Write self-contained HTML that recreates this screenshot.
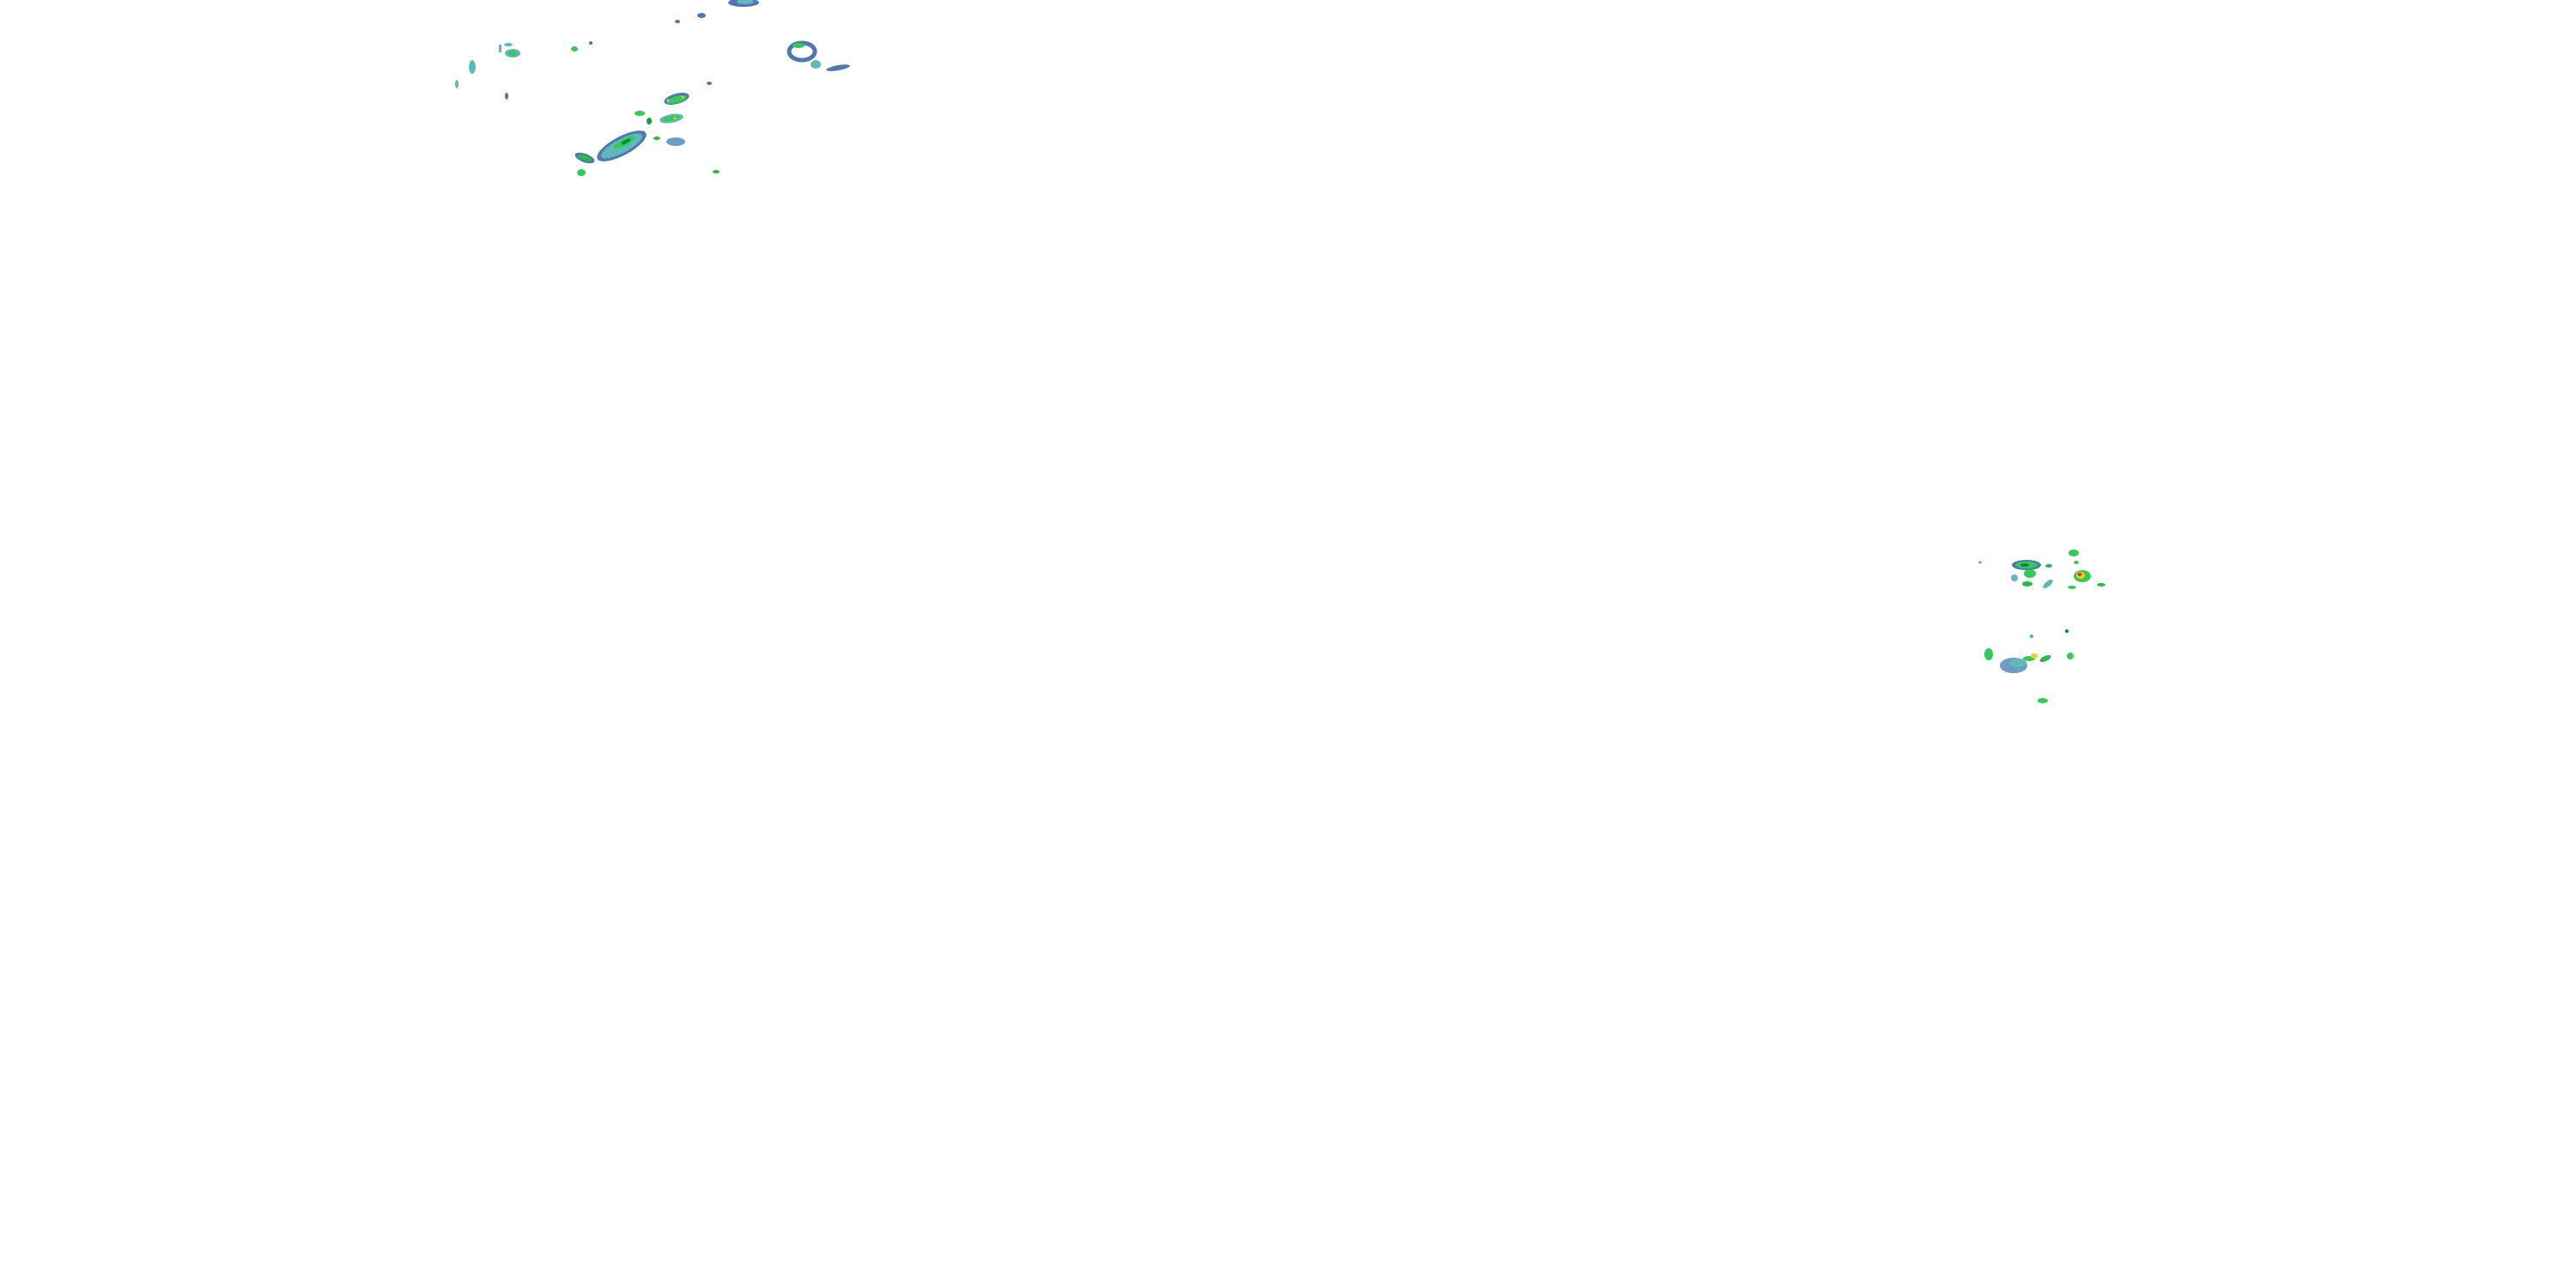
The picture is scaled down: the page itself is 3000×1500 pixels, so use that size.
<!DOCTYPE html>
<html><head><meta charset="utf-8"><style>html,body{margin:0;padding:0;background:#fff}svg{display:block}</style></head>
<body>
<svg width="3000" height="1500" viewBox="0 0 3000 1500" xmlns="http://www.w3.org/2000/svg">
<defs>
<g id="x"></g>
</defs>
<!-- top-left cluster -->
<g>
<ellipse cx="724" cy="170" rx="32" ry="11" fill="#4f78b0" transform="rotate(-28 724 170)"/>
<ellipse cx="724" cy="170" rx="27" ry="8" fill="#62b7bd" transform="rotate(-28 724 170)"/>
<ellipse cx="727" cy="166" rx="14" ry="4" fill="#36c95a" transform="rotate(-28 727 166)"/>
<ellipse cx="729" cy="165" rx="6" ry="2" fill="#0a8a2a" transform="rotate(-28 729 165)"/>
<ellipse cx="788" cy="115" rx="15" ry="6" fill="#4f78b0" transform="rotate(-15 788 115)"/>
<ellipse cx="788" cy="116" rx="12" ry="4" fill="#36c95a" transform="rotate(-15 788 116)"/>
<circle cx="778" cy="117" r="1.5" fill="#f0d020"/><circle cx="795" cy="113" r="1.5" fill="#f0d020"/>
<ellipse cx="782" cy="138" rx="14" ry="5" fill="#62b7bd" transform="rotate(-10 782 138)"/>
<ellipse cx="782" cy="138" rx="10" ry="3" fill="#36c95a" transform="rotate(-10 782 138)"/>
<circle cx="786" cy="138" r="1.5" fill="#f0d020"/>
<ellipse cx="787" cy="165" rx="11" ry="5" fill="#6a9ec4"/>
<ellipse cx="681" cy="184" rx="12" ry="5" fill="#4f78b0" transform="rotate(20 681 184)"/>
<ellipse cx="681" cy="184" rx="9" ry="3" fill="#2ab84a" transform="rotate(20 681 184)"/>
<ellipse cx="677" cy="201" rx="5" ry="4" fill="#36c95a"/>
<ellipse cx="745" cy="132" rx="6" ry="3" fill="#36c95a"/>
<ellipse cx="834" cy="200" rx="4" ry="2" fill="#2ab84a"/>
<ellipse cx="756" cy="141" rx="3" ry="4" fill="#1a9a3a"/>
<ellipse cx="765" cy="161" rx="4" ry="2" fill="#2ab84a"/>
<ellipse cx="866" cy="3" rx="18" ry="5" fill="#4f78b0"/>
<ellipse cx="868" cy="2" rx="10" ry="3" fill="#62b7bd"/>
<ellipse cx="817" cy="18" rx="5" ry="3" fill="#4f78b0"/>
<ellipse cx="789" cy="25" rx="3" ry="2" fill="#4f78b0"/>
<!-- ring -->
<ellipse cx="934" cy="60" rx="15" ry="10" fill="none" stroke="#4f78b0" stroke-width="5"/>
<ellipse cx="930" cy="53" rx="7" ry="3" fill="#36c95a"/>
<ellipse cx="950" cy="75" rx="6" ry="5" fill="#62b7bd"/>
<ellipse cx="976" cy="79" rx="14" ry="3" fill="#4f78b0" transform="rotate(-10 976 79)"/>
<!-- left bits -->
<ellipse cx="597" cy="62" rx="9" ry="5" fill="#62b7bd"/>
<ellipse cx="597" cy="62" rx="5" ry="3" fill="#36c95a"/>
<ellipse cx="592" cy="52" rx="5" ry="2" fill="#62b7bd"/>
<rect x="581" y="52" width="3" height="9" fill="#62b7bd"/>
<ellipse cx="550" cy="78" rx="4" ry="8" fill="#62b7bd"/>
<ellipse cx="669" cy="57" rx="4" ry="3" fill="#36c95a"/>
<ellipse cx="688" cy="50" rx="2" ry="2" fill="#4f78b0"/>
<ellipse cx="590" cy="112" rx="2" ry="4" fill="#4f78b0"/>
<ellipse cx="532" cy="98" rx="2" ry="5" fill="#62b7bd"/>
<ellipse cx="826" cy="97" rx="3" ry="2" fill="#4f78b0"/>
</g>
<!-- right cluster -->
<g>
<ellipse cx="2360" cy="658" rx="17" ry="6" fill="#4f78b0"/>
<ellipse cx="2360" cy="658" rx="13" ry="4" fill="#36c95a"/>
<ellipse cx="2358" cy="658" rx="5" ry="2" fill="#0a8a2a"/>
<ellipse cx="2364" cy="668" rx="7" ry="5" fill="#36c95a"/>
<ellipse cx="2361" cy="680" rx="6" ry="3" fill="#2ab84a"/>
<ellipse cx="2346" cy="673" rx="4" ry="4" fill="#62b7bd"/>
<ellipse cx="2425" cy="671" rx="10" ry="7" fill="#36c95a"/>
<ellipse cx="2423" cy="670" rx="5" ry="4" fill="#f0d020"/>
<ellipse cx="2422" cy="669" rx="2.5" ry="2" fill="#e03020"/>
<ellipse cx="2415" cy="644" rx="6" ry="4" fill="#36c95a"/>
<ellipse cx="2385" cy="680" rx="7" ry="3" fill="#62b7bd" transform="rotate(-40 2385 680)"/>
<ellipse cx="2447" cy="681" rx="5" ry="2" fill="#2ab84a"/>
<ellipse cx="2413" cy="684" rx="5" ry="2" fill="#36c95a"/>
<ellipse cx="2418" cy="655" rx="3" ry="2" fill="#36c95a"/>
<ellipse cx="2386" cy="659" rx="4" ry="2" fill="#2ab84a"/>
<ellipse cx="2306" cy="655" rx="2" ry="1.5" fill="#62b7bd"/>
<ellipse cx="2316" cy="762" rx="5" ry="7" fill="#36c95a"/>
<ellipse cx="2345" cy="775" rx="16" ry="9" fill="#6a9ec4"/>
<ellipse cx="2350" cy="772" rx="10" ry="5" fill="#62b7bd"/>
<ellipse cx="2363" cy="767" rx="7" ry="3" fill="#36c95a"/>
<ellipse cx="2382" cy="767" rx="7" ry="3" fill="#2ab84a" transform="rotate(-25 2382 767)"/>
<ellipse cx="2369" cy="764" rx="4" ry="3" fill="#f0d020"/>
<ellipse cx="2411" cy="764" rx="4" ry="4" fill="#36c95a"/>
<ellipse cx="2379" cy="816" rx="6" ry="3" fill="#36c95a"/>
<ellipse cx="2407" cy="735" rx="2" ry="2" fill="#0a8a2a"/>
<ellipse cx="2366" cy="741" rx="2" ry="2" fill="#36c95a"/>
</g>
</svg>
</body></html>
